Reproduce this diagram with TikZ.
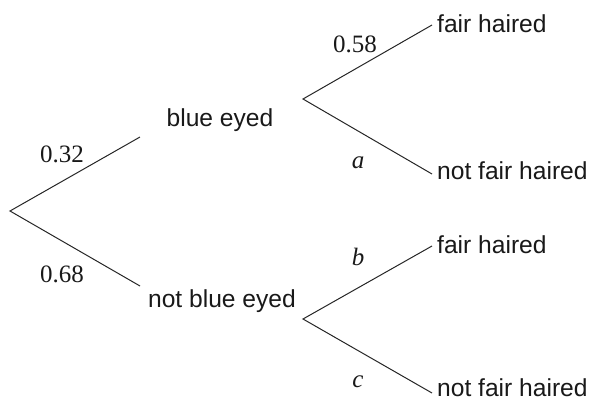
\documentclass[tikz,border=0pt]{standalone}
\usepackage{fontspec}
\setmainfont{Liberation Serif}
\newfontfamily\arialfont{Liberation Sans}
\begin{document}
\begin{tikzpicture}[x=1pt,y=-1pt,
  branch/.style={draw=black!85,line width=1pt},
  lbl/.style={font=\arialfont\fontsize{24.6}{28}\selectfont,inner sep=0pt,text=black!90},
  prob/.style={font=\fontsize{25}{28}\selectfont,inner sep=0pt,text=black!90}]
\useasboundingbox (0,0) rectangle (592,402);
\coordinate (root) at (10,211);
\coordinate (be) at (140,137);
\coordinate (nbe) at (140,286);
\coordinate (f1) at (303,99);
\coordinate (f1u) at (432,25);
\coordinate (f1d) at (432,174);
\coordinate (f2) at (303,319);
\coordinate (f2u) at (432,246);
\coordinate (f2d) at (432,393);
\draw[branch] (be) -- (root) -- (nbe);
\draw[branch] (f1u) -- (f1) -- (f1d);
\draw[branch] (f2u) -- (f2) -- (f2d);
\node[lbl] (tbe) at (220,120) {blue eyed};
\node[lbl] (tnbe) at (222,301) {not blue eyed};
\node[lbl,anchor=west] (t1) at (437,24) {fair haired};
\node[lbl,anchor=west] (t2) at (437,171) {not fair haired};
\node[lbl,anchor=west] (t3) at (437,245) {fair haired};
\node[lbl,anchor=west] (t4) at (437,388) {not fair haired};
\node[prob] (p1) at (62,154) {0.32};
\node[prob] (p2) at (62,274) {0.68};
\node[prob] (p3) at (355,44) {0.58};
\node[prob] (pa) at (358,163) {\itshape a};
\node[prob] (pb) at (358,257) {\itshape b};
\node[prob] (pc) at (358,382) {\itshape c};
\end{tikzpicture}
\end{document}
